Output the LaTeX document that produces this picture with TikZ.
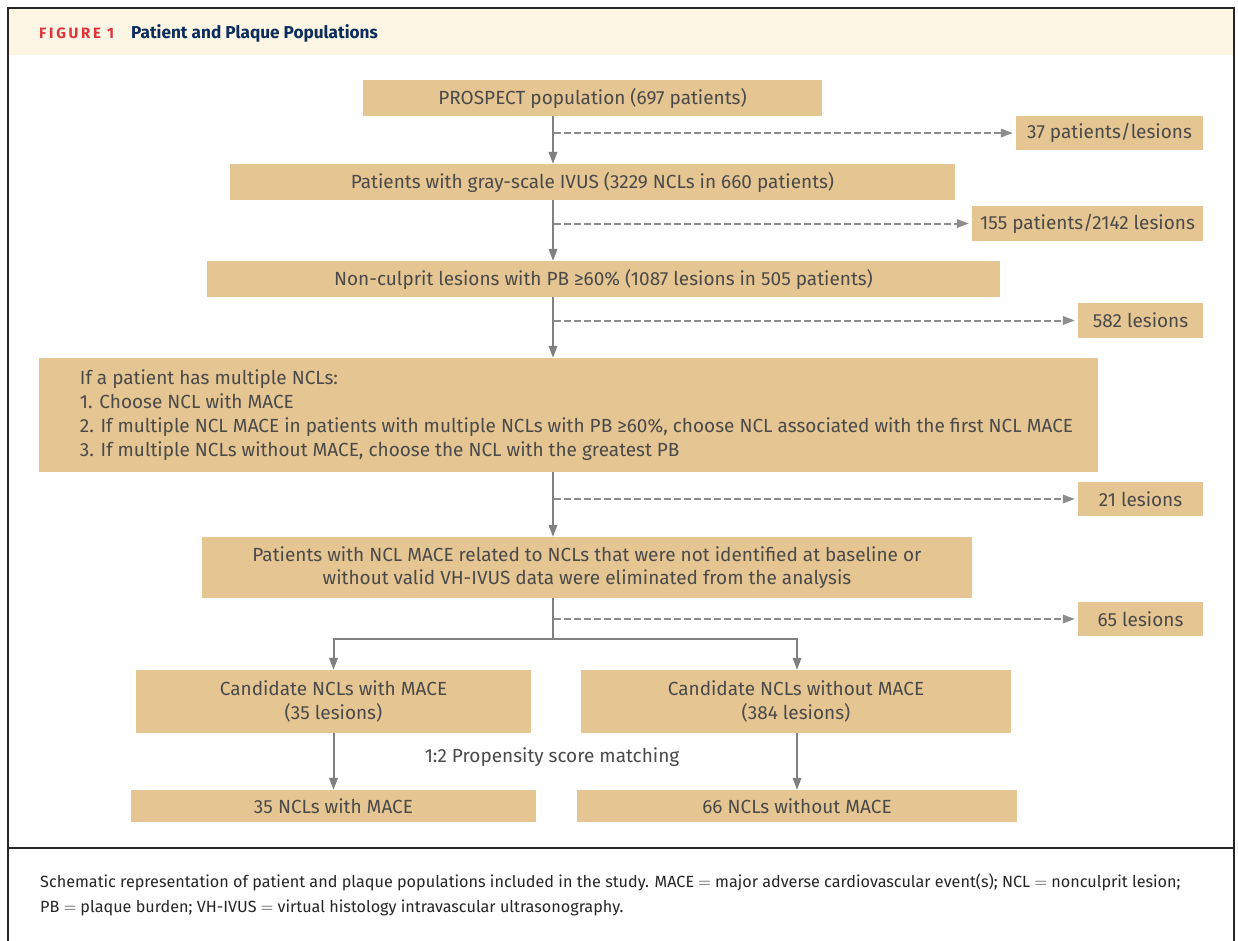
\documentclass[tikz,border=0pt]{standalone}
\usepackage{fontspec}
\setmainfont{Fira Sans}
\newfontfamily\hdfont{Fira Sans}
\usetikzlibrary{arrows.meta}
\definecolor{boxfill}{HTML}{E5C592}
\definecolor{hdband}{HTML}{FDF6E4}
\definecolor{hdred}{HTML}{E2323C}
\definecolor{hdnavy}{HTML}{0B2C5C}
\definecolor{txt}{HTML}{4A4A4A}
\definecolor{arrgray}{HTML}{808080}
\tikzset{
  flowbox/.style={fill=boxfill, draw=none, inner sep=0pt, text=txt, font=\fontsize{19}{23.5}\selectfont, align=center},
  arr/.style={draw=arrgray, line width=2pt, -{Triangle[length=12pt,width=8.5pt]}},
  darr/.style={draw=arrgray!90, line width=2pt, dash pattern=on 6.5pt off 3.5pt, -{Triangle[length=12pt,width=8.5pt]}},
  plain/.style={draw=arrgray, line width=2pt},
}
\begin{document}
\begin{tikzpicture}[x=1pt,y=-1pt]
\useasboundingbox (0,0) rectangle (1238,940);
% frame and header
\fill[white] (0,0) rectangle (1238,940);
\fill[hdband] (9,9) rectangle (1233,55);
\draw[line width=2pt, black!85] (8,945) -- (8,8) -- (1234,8) -- (1234,945);
\draw[line width=2pt, black!85] (8,848) -- (1234,848);
\node[anchor=west, inner sep=0pt, text=hdred, font=\hdfont\fontsize{15}{16}\selectfont\bfseries] (fig) at (39,33) {\addfontfeature{LetterSpace=18}FIGURE 1};
\node[anchor=west, inner sep=0pt, text=hdnavy, font=\hdfont\fontsize{17.2}{20}\selectfont\bfseries] (title) at (131,33) {Patient and Plaque Populations};
% boxes
\node[flowbox, minimum width=459pt, minimum height=36pt] (B1) at (592.5,98) {PROSPECT population (697 patients)};
\node[flowbox, minimum width=187pt, minimum height=34pt] (S1) at (1109.5,133) {37 patients/lesions};
\node[flowbox, minimum width=725pt, minimum height=36pt] (B2) at (592.5,182) {Patients with gray-scale IVUS (3229 NCLs in 660 patients)};
\node[flowbox, minimum width=231pt, minimum height=35pt] (S2) at (1087.5,223.5) {155 patients/2142 lesions};
\node[flowbox, minimum width=793pt, minimum height=36pt] (B3) at (603.5,279) {Non-culprit lesions with PB ≥60\% (1087 lesions in 505 patients)};
\node[flowbox, minimum width=125pt, minimum height=35pt] (S3) at (1140.5,320.5) {582 lesions};
\node[flowbox, minimum width=1059pt, minimum height=114pt, align=left, font=\fontsize{19}{23.8}\selectfont] (B4) at (568.5,415) {%
\hspace*{16pt}If a patient has multiple NCLs:\\
\hspace*{16pt}1. Choose NCL with MACE\\
\hspace*{16pt}2. If multiple NCL MACE in patients with multiple NCLs with PB ≥60\%, choose NCL associated with the first NCL MACE\\
\hspace*{16pt}3. If multiple NCLs without MACE, choose the NCL with the greatest PB};
\node[flowbox, minimum width=125pt, minimum height=34pt] (S4) at (1140.5,499) {21 lesions};
\node[flowbox, minimum width=770pt, minimum height=61pt] (B5) at (587,567.5) {Patients with NCL MACE related to NCLs that were not identified at baseline or\\without valid VH-IVUS data were eliminated from the analysis};
\node[flowbox, minimum width=125pt, minimum height=34pt] (S5) at (1140.5,619) {65 lesions};
\node[flowbox, minimum width=395pt, minimum height=63pt] (B6L) at (333.5,701.5) {Candidate NCLs with MACE\\(35 lesions)};
\node[flowbox, minimum width=430pt, minimum height=63pt] (B6R) at (796,701.5) {Candidate NCLs without MACE\\(384 lesions)};
\node[inner sep=0pt, text=txt, font=\fontsize{19}{23}\selectfont] (psm) at (552,757) {1:2 Propensity score matching};
\node[flowbox, minimum width=405pt, minimum height=32pt] (B7L) at (333.5,806) {35 NCLs with MACE};
\node[flowbox, minimum width=440pt, minimum height=32pt] (B7R) at (797,806) {66 NCLs without MACE};
% trunk coordinates
\coordinate (tx) at (553,0);
\coordinate (d1) at (554,133);
\coordinate (d2) at (554,223.5);
\coordinate (d3) at (554,320.5);
\coordinate (d4) at (554,499);
\coordinate (d5) at (554,619);
\coordinate (br) at (553,639);
\coordinate (bl) at (333.5,639);
\coordinate (brr) at (797,639);
% main arrows
\draw[arr] (B1.south -| tx) -- (B2.north -| tx);
\draw[arr] (B2.south -| tx) -- (B3.north -| tx);
\draw[arr] (B3.south -| tx) -- (B4.north -| tx);
\draw[arr] (B4.south -| tx) -- (B5.north -| tx);
\draw[plain] (B5.south -| tx) -- (br);
\draw[plain] ([xshift=-1pt]bl) -- ([xshift=1pt]brr);
\draw[arr] (bl) -- (B6L.north);
\draw[arr] (brr) -- (B6R.north -| brr);
\draw[arr] (B6L.south) -- (B7L.north);
\draw[arr] (B6R.south -| B7R.north) -- (B7R.north);
% dashed side arrows
\draw[darr] (d1) -- ([xshift=-3pt]S1.west);
\draw[darr] (d2) -- ([xshift=-3pt]S2.west);
\draw[darr] (d3) -- ([xshift=-3pt]S3.west);
\draw[darr] (d4) -- ([xshift=-3pt]S4.west);
\draw[darr] (d5) -- ([xshift=-3pt]S5.west);
% caption
\node[anchor=west, inner sep=0pt, text=black!85, font=\fontsize{16.2}{18}\selectfont] (cap1) at (40,882) {Schematic representation of patient and plaque populations included in the study. MACE $=$ major adverse cardiovascular event(s); NCL $=$ nonculprit lesion;};
\node[anchor=west, inner sep=0pt, text=black!85, font=\fontsize{16.2}{18}\selectfont] (cap2) at (40,908) {PB $=$ plaque burden; VH-IVUS $=$ virtual histology intravascular ultrasonography.};
\end{tikzpicture}
\end{document}
